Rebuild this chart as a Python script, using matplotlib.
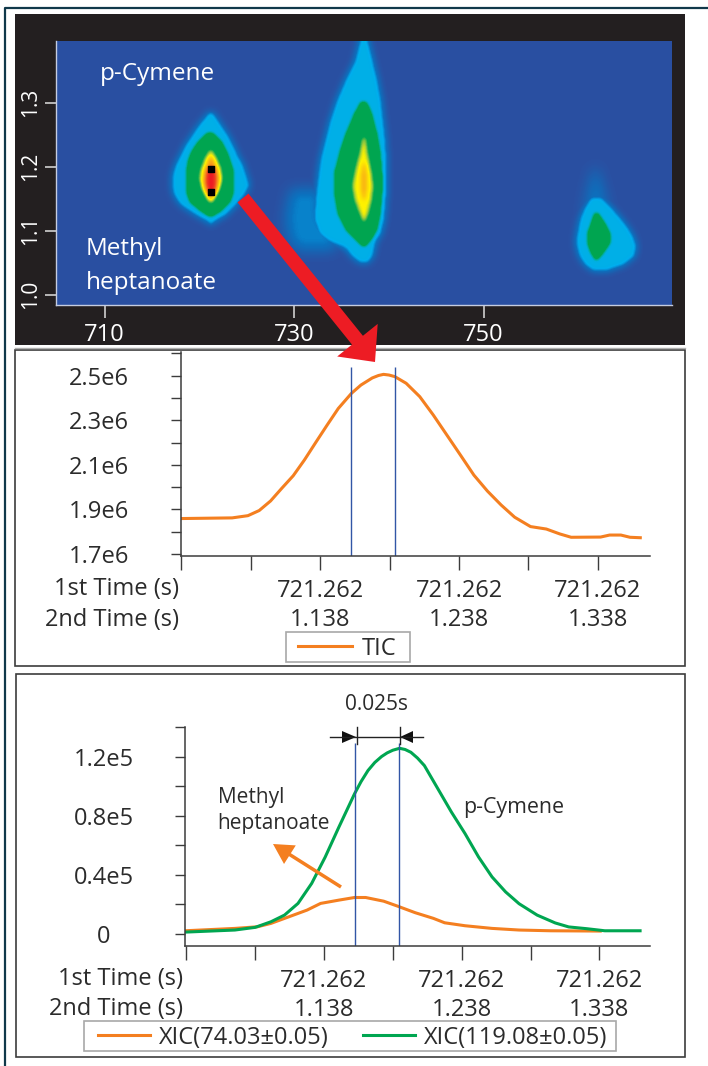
import numpy as np
import matplotlib
matplotlib.use('Agg')
import matplotlib.pyplot as plt
from matplotlib.path import Path
from matplotlib.patches import Rectangle, FancyArrow
from matplotlib.colors import LinearSegmentedColormap

W, H = 708, 1066
plt.rcParams['font.family'] = ['Open Sans', 'DejaVu Sans']

# 2D chromatogram, outlines: (2nd time, left 1st time, right 1st time)
shoulder = [(1.165, 729.6, 733.0), (1.120, 729.0, 733.0), (1.085, 729.4, 735.0), (1.068, 730.4, 734.0)]
tail3 = [(1.200, 761.7, 762.0), (1.160, 761.0, 762.8), (1.120, 760.6, 763.4)]

p1_cyan = [(1.286, 721.1, 721.3), (1.281, 720.77, 721.65), (1.265, 719.89, 722.35), (1.250, 719.19, 723.06),
           (1.234, 718.48, 723.59), (1.218, 717.95, 724.11), (1.203, 717.43, 724.64), (1.187, 717.14, 725.0),
           (1.171, 717.07, 725.35), (1.156, 717.25, 724.82), (1.140, 717.95, 723.94), (1.124, 719.54, 722.88),
           (1.114, 720.77, 721.65), (1.109, 721.1, 721.3)]
p1_green = [(1.252, 720.77, 721.47), (1.239, 719.89, 722.35), (1.223, 719.19, 722.88), (1.208, 718.83, 723.23),
            (1.192, 718.66, 723.59), (1.177, 718.66, 723.59), (1.161, 718.66, 723.59), (1.145, 719.01, 723.23),
            (1.130, 720.24, 722.18), (1.122, 721.12, 721.30)]
p1_yellow = [(1.226, 721.12, 721.30), (1.213, 720.59, 721.83), (1.197, 720.17, 722.28), (1.182, 720.0, 722.42),
             (1.166, 720.24, 722.18), (1.150, 720.77, 721.65), (1.143, 721.12, 721.30)]
p1_orange = [(1.215, 721.1, 721.3), (1.208, 720.95, 721.51), (1.192, 720.49, 722.0), (1.177, 720.42, 722.07),
             (1.161, 720.66, 721.83), (1.150, 721.1, 721.3)]
p1_red = [(1.200, 721.02, 721.47), (1.187, 720.73, 721.76), (1.171, 720.73, 721.76), (1.158, 721.02, 721.47)]

p2_cyan = [(1.398, 736.96, 737.84), (1.367, 736.43, 738.37), (1.335, 735.37, 738.89), (1.304, 734.49, 739.25),
           (1.273, 733.79, 739.49), (1.242, 733.26, 739.70), (1.210, 732.73, 739.84), (1.179, 732.45, 739.84),
           (1.148, 732.21, 739.77), (1.117, 732.1, 739.6), (1.095, 732.6, 739.25), (1.083, 733.6, 738.72),
           (1.072, 735.4, 738.54), (1.059, 736.08, 738.37), (1.049, 736.96, 737.84)]
p2_green = [(1.302, 737.13, 737.59), (1.283, 736.43, 738.19), (1.252, 735.55, 738.72), (1.221, 734.85, 739.07),
            (1.190, 734.32, 739.25), (1.158, 734.32, 739.25), (1.127, 734.67, 739.07), (1.101, 735.55, 738.72),
            (1.085, 736.61, 738.08), (1.075, 737.31, 737.49)]
p2_yellow = [(1.247, 737.31, 737.52), (1.221, 736.96, 737.77), (1.190, 736.43, 738.19), (1.169, 736.18, 738.37),
             (1.148, 736.43, 738.19), (1.127, 736.96, 737.84), (1.114, 737.31, 737.49)]
p2_orange = [(1.205, 737.31, 737.49), (1.184, 737.06, 737.73), (1.166, 737.06, 737.73), (1.148, 737.31, 737.49)]

p3_cyan = [(1.153, 761.42, 762.48), (1.137, 760.72, 763.54), (1.122, 760.26, 764.42), (1.106, 760.02, 765.30),
           (1.091, 759.84, 765.9), (1.075, 759.84, 766.25), (1.059, 760.12, 766.0), (1.046, 760.72, 764.94),
           (1.036, 761.6, 763.0)]
p3_green = [(1.127, 761.78, 762.13), (1.111, 761.42, 762.83), (1.096, 761.07, 763.36), (1.080, 761.07, 763.36),
            (1.065, 761.42, 762.66), (1.054, 761.88, 762.02)]

faint_bands = [(shoulder, 0.62), (tail3, 0.55)]
cyan_bands = [(p1_cyan, 1), (p2_cyan, 1), (p3_cyan, 1)]
bands = [(p1_green, 2), (p2_green, 2), (p3_green, 2), (p1_yellow, 3), (p2_yellow, 3),
         (p1_orange, 4), (p2_orange, 3.7), (p1_red, 5)]
dots_x = [721.25, 721.25]
dots_y = [1.197, 1.161]

# TIC trace
tic_t = [1.0370, 1.0745, 1.0859, 1.0940, 1.1022, 1.1103, 1.1185, 1.1266, 1.1347, 1.1429, 1.1510, 1.1605, 1.1673,
         1.1755, 1.1800, 1.1836, 1.1875, 1.1917, 1.1999, 1.2097, 1.2194, 1.2292, 1.2390, 1.2487, 1.2585, 1.2683,
         1.2781, 1.2895, 1.3009, 1.3106, 1.3188, 1.3400, 1.3465, 1.3546, 1.3612, 1.3686]
tic_v = [1.859, 1.862, 1.872, 1.895, 1.938, 1.995, 2.051, 2.122, 2.200, 2.278, 2.353, 2.421, 2.458, 2.490, 2.501,
         2.506, 2.503, 2.496, 2.466, 2.406, 2.324, 2.234, 2.144, 2.054, 1.982, 1.920, 1.865, 1.823, 1.812, 1.790,
         1.775, 1.776, 1.785, 1.785, 1.775, 1.773]
tic_marks = [1.1605, 1.1921]

# XIC traces
x119_t = [1.0375, 1.0735, 1.0882, 1.0997, 1.1095, 1.1193, 1.1292, 1.1390, 1.1488, 1.1603, 1.1650, 1.1701, 1.1750,
          1.1799, 1.1840, 1.1881, 1.1930, 1.1970, 1.2012, 1.2060, 1.2110, 1.2208, 1.2306, 1.2405, 1.2503, 1.2601,
          1.2699, 1.2797, 1.2928, 1.3059, 1.3157, 1.3288, 1.3419, 1.3675]
x119_v = [0.013, 0.027, 0.045, 0.083, 0.128, 0.207, 0.342, 0.520, 0.720, 0.948, 1.030, 1.106, 1.160, 1.200, 1.225,
          1.243, 1.256, 1.248, 1.229, 1.190, 1.139, 0.982, 0.825, 0.679, 0.521, 0.386, 0.285, 0.205, 0.128, 0.075,
          0.048, 0.036, 0.022, 0.022]
x74_t = [1.0375, 1.0735, 1.0899, 1.0997, 1.1128, 1.1259, 1.1357, 1.1488, 1.1603, 1.1684, 1.1815, 1.1914, 1.2044,
         1.2175, 1.2257, 1.2405, 1.2601, 1.2797, 1.3026, 1.3386]
x74_v = [0.022, 0.038, 0.049, 0.072, 0.117, 0.162, 0.207, 0.229, 0.247, 0.247, 0.222, 0.189, 0.144, 0.106, 0.076,
         0.056, 0.038, 0.027, 0.022, 0.020]
xic_marks = [1.1609, 1.1923]

time_ticks = [1.038, 1.088, 1.138, 1.188, 1.238, 1.288, 1.338]
time_labels = ['', '', '721.262\n1.138', '', '721.262\n1.238', '', '721.262\n1.338']
tic_ticks = [1.7, 1.8, 1.9, 2.0, 2.1, 2.2, 2.3, 2.4, 2.5, 2.6]
tic_labels = ['1.7e6', '', '1.9e6', '', '2.1e6', '', '2.3e6', '', '2.5e6', '']
xic_ticks = [0, 0.2, 0.4, 0.6, 0.8, 1.0, 1.2, 1.4]
xic_labels = ['0', '', '0.4e5', '', '0.8e5', '', '1.2e5', '']

ORANGE = '#f47f20'
GREEN = '#00a651'
BLUE = '#3256a6'
DARK = '#3c3c3c'
TXT = '#2b2b2b'


def box(x0, y0, x1, y1):
    return [x0 / W, 1 - y1 / H, (x1 - x0) / W, (y1 - y0) / H]


def px(v):
    return v * 72 / 100


def rasterize(band_list):
    out = np.zeros(gx.size)
    for rows, level in band_list:
        rows = np.array(rows)
        poly = np.vstack([rows[:, [1, 0]], rows[::-1][:, [2, 0]]])
        inside = Path(poly).contains_points(pts)
        out[inside] = np.maximum(out[inside], level)
    return out.reshape(gx.shape)


def blur(a, n, passes):
    kern = np.ones(n) / n
    for _ in range(passes):
        a = np.apply_along_axis(lambda r: np.convolve(np.pad(r, n // 2, mode='edge'), kern, mode='valid'), 1, a)
        a = np.apply_along_axis(lambda r: np.convolve(np.pad(r, n // 2, mode='edge'), kern, mode='valid'), 0, a)
    return a


fig = plt.figure(figsize=(W / 100, H / 100), dpi=100, facecolor='white')

# background layer in pixel coordinates
bg = fig.add_axes([0, 0, 1, 1], zorder=0)
bg.set_xlim(0, W)
bg.set_ylim(H, 0)
bg.axis('off')
bg.plot([708, 4.5, 4.5], [7.5, 7.5, 1066], color='#10384a', lw=1.6)
bg.add_patch(Rectangle((15, 14), 670, 331, fc='#231f20', ec='none'))
bg.plot([15, 685], [348, 348], color='#b0b0b0', lw=1)
bg.add_patch(Rectangle((15, 350), 670, 316, fc='none', ec=DARK, lw=1.2))
bg.add_patch(Rectangle((16, 673.5), 669, 383.5, fc='none', ec=DARK, lw=1.2))

# heat map: rasterize the outlines, then soften them, outer ones more
hx0, hx1 = 704.9, 769.9
hy0, hy1 = 0.984, 1.396
nx, ny = 616, 264
gx, gy = np.meshgrid(np.linspace(hx0, hx1, nx), np.linspace(hy1, hy0, ny))
pts = np.column_stack([gx.ravel(), gy.ravel()])
field = blur(rasterize(cyan_bands + bands), 5, 2)
field = np.maximum(field, blur(rasterize(cyan_bands), 9, 2))
field = np.maximum(field, blur(rasterize(faint_bands), 15, 2))

cmap = LinearSegmentedColormap.from_list('gc', [(0, '#2a50a2'), (0.1, '#0b72bf'), (0.18, '#00aeef'),
                                                (0.22, '#00b0e0'), (0.26, '#00ad9f'), (0.3, GREEN), (0.44, GREEN),
                                                (0.53, '#9ccb3b'), (0.6, '#fff200'), (0.8, '#f7941d'),
                                                (1, '#ed1c24')])
ax1 = fig.add_axes(box(56.4, 41, 672, 305), zorder=1)
ax1.imshow(field, extent=[hx0, hx1, hy0, hy1], origin='upper', aspect='auto', cmap=cmap, vmin=0, vmax=5)
ax1.scatter(dots_x, dots_y, marker='s', s=16, color='black', zorder=3)
ax1.set_xlim(hx0, hx1)
ax1.set_ylim(hy0, hy1)
ax1.set_xticks([710, 730, 750])
ax1.set_yticks([1.0, 1.1, 1.2, 1.3])
ax1.set_yticklabels(['1.0', '1.1', '1.2', '1.3'], rotation=90, va='center')
ax1.tick_params(axis='x', colors='#d0d0d0', labelcolor='white', length=px(13), width=1.2, pad=px(5), labelsize=17)
ax1.tick_params(axis='y', colors='#d0d0d0', labelcolor='white', length=px(11), width=1.2, pad=px(4), labelsize=15)
for name, sp in ax1.spines.items():
    sp.set_visible(name in ('left', 'bottom'))
    sp.set_color('#c4cce0')
    sp.set_linewidth(1)

# TIC panel
ax2 = fig.add_axes(box(180.5, 352.3, 650, 556), zorder=1, facecolor='none')
ax2.plot(tic_t, tic_v, color=ORANGE, lw=2.2)
ax2.vlines(tic_marks, 1.691, 2.537, color=BLUE, lw=1)
ax2.set_xlim(1.0373, 1.3756)
ax2.set_ylim(1.691, 2.605)
ax2.set_xticks(time_ticks)
ax2.set_xticklabels(time_labels, linespacing=1.29)
ax2.set_yticks(tic_ticks)
ax2.set_yticklabels(tic_labels)

# XIC panel
ax3 = fig.add_axes(box(185, 727, 650, 946), zorder=1, facecolor='none')
ax3.plot(x74_t, x74_v, color=ORANGE, lw=2.2)
ax3.plot(x119_t, x119_v, color=GREEN, lw=2.2)
ax3.vlines(xic_marks, -0.081, 1.29, color=BLUE, lw=1)
ax3.set_xlim(1.0373, 1.3747)
ax3.set_ylim(-0.081, 1.40)
ax3.set_xticks(time_ticks)
ax3.set_xticklabels(time_labels, linespacing=1.29)
ax3.set_yticks(xic_ticks)
ax3.set_yticklabels(xic_labels)

for ax, pad_y in ((ax2, 72), (ax3, 71)):
    ax.spines['top'].set_visible(False)
    ax.spines['right'].set_visible(False)
    ax.spines['left'].set_color(DARK)
    ax.spines['bottom'].set_color(DARK)
    ax.spines['left'].set_linewidth(1.1)
    ax.spines['bottom'].set_linewidth(1.1)
    ax.tick_params(axis='x', colors=DARK, labelcolor=TXT, length=px(14), width=1, pad=px(9), labelsize=17)
    ax.tick_params(axis='y', colors=DARK, labelcolor=TXT, length=px(10), width=1, pad=px(pad_y), labelsize=17)
    for lab in ax.get_yticklabels():
        lab.set_ha('center')

# top layer: labels, arrows, legends
top = fig.add_axes([0, 0, 1, 1], zorder=5, facecolor='none')
top.set_xlim(0, W)
top.set_ylim(H, 0)
top.axis('off')

top.text(100, 74, 'p-Cymene', color='white', fontsize=17.5, va='center')
top.text(86, 249, 'Methyl', color='white', fontsize=17.5, va='center')
top.text(86, 283, 'heptanoate', color='white', fontsize=17.5, va='center')
top.add_patch(FancyArrow(243, 198, 132, 164, width=14, head_width=52, head_length=28,
                         length_includes_head=True, color='#ed1c24', lw=0))

top.text(179, 589, '1st Time (s)', color=TXT, fontsize=17, ha='right', va='center')
top.text(179, 620, '2nd Time (s)', color=TXT, fontsize=17, ha='right', va='center')
top.add_patch(Rectangle((286, 632), 124, 30, fc='white', ec='#a8a8a8', lw=1.2))
top.plot([298, 352], [646, 646], color=ORANGE, lw=2.2)
top.text(362, 649, 'TIC', color=TXT, fontsize=17, va='center')

top.text(183, 979, '1st Time (s)', color=TXT, fontsize=17, ha='right', va='center')
top.text(183, 1009, '2nd Time (s)', color=TXT, fontsize=17, ha='right', va='center')
top.add_patch(Rectangle((84, 1021), 532, 30, fc='white', ec='#a8a8a8', lw=1.2))
top.plot([98, 150], [1035, 1035], color=ORANGE, lw=2.2)
top.text(159, 1038, 'XIC(74.03±0.05)', color=TXT, fontsize=17, va='center')
top.plot([362.5, 415], [1035, 1035], color=GREEN, lw=2.2)
top.text(424, 1038, 'XIC(119.08±0.05)', color=TXT, fontsize=17, va='center')

top.text(376, 704, '0.025s', color=TXT, fontsize=15, ha='center', va='center')
top.plot([330, 423], [737, 737], color='#222222', lw=1)
top.plot([356.5, 356.5], [727, 744], color='#222222', lw=1)
top.plot([400, 400], [727, 744], color='#222222', lw=1)
top.fill([342, 356, 342], [731, 737, 743], color='#111111', lw=0)
top.fill([413, 400, 413], [731, 737, 743], color='#111111', lw=0)
top.text(217.5, 798, 'Methyl', color=TXT, fontsize=15, va='center')
top.text(217.5, 824, 'heptanoate', color=TXT, fontsize=15, va='center')
top.text(463, 808, 'p-Cymene', color=TXT, fontsize=15.4, va='center')
top.add_patch(FancyArrow(341, 887, -68, -43, width=3.5, head_width=22, head_length=20,
                         length_includes_head=True, color=ORANGE, lw=0))

fig.savefig('out.png', dpi=100)
